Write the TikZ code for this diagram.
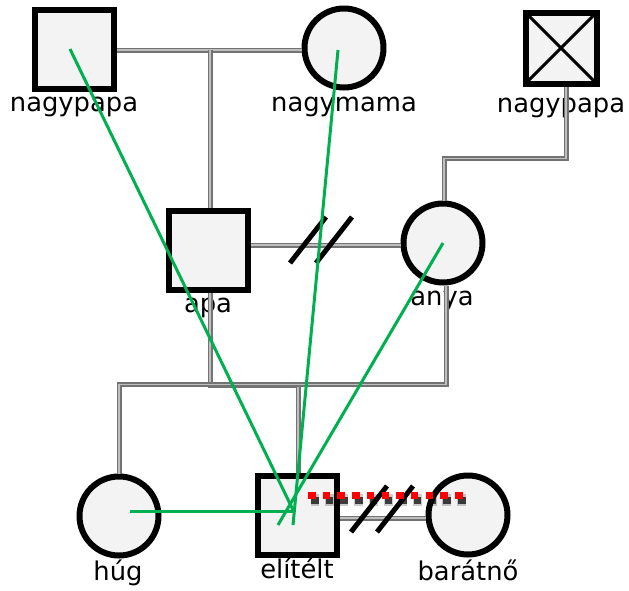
\documentclass[tikz,border=0pt]{standalone}
\usepackage{fontspec}
\setmainfont{DejaVu Sans}
\usetikzlibrary{calc}
\definecolor{emogreen}{RGB}{0,176,80}
\definecolor{boxfill}{RGB}{243,243,243}
\tikzset{
  person/.style={draw=black, line width=6pt, fill=boxfill, inner sep=0pt, minimum size=79pt},
  male/.style={person, rectangle},
  female/.style={person, circle},
  deceased/.style={male, minimum size=71pt,
    path picture={\draw[line width=3pt]
      (path picture bounding box.south west) -- (path picture bounding box.north east)
      (path picture bounding box.north west) -- (path picture bounding box.south east);}},
  lbl/.style={anchor=base, font=\fontsize{25.8}{30}\selectfont},
  rel/.style={draw=black!55, double=black!25, line width=1.6pt, double distance=1.8pt},
  cut/.style={line width=5pt, black},
  emo/.style={emogreen, line width=3pt},
}
\begin{document}
\begin{tikzpicture}[x=1pt, y=-1pt]
\useasboundingbox (0,0) rectangle (629,590);
% ==== Persons ====
\node[male]     (np1) at (74,49)   {};
\node[female]   (nm)  at (344,48)  {};
\node[deceased] (np2) at (561,48)  {};
\node[male]     (apa) at (208,250) {};
\node[female]   (anya) at (443,243) {};
\node[female]   (hug) at (119,516) {};
\node[male]     (eli) at (297,515) {};
\node[female]   (bn)  at (468,515) {};
% ==== Labels ====
\node[lbl] (np1l) at (74,111)  {nagypapa};
\node[lbl] (nml)  at (344,111) {nagymama};
\node[lbl] (np2l) at (561,112) {nagypapa};
\node[lbl] (apal) at (208,312) {apa};
\node[lbl] (anyal) at (442,305) {anya};
\node[lbl] (hugl) at (118,580) {húg};
\node[lbl] (elil) at (297,578) {elítélt};
\node[lbl] (bnl)  at (468,580) {barátnő};
% ==== Family lines ====
\coordinate (m1) at (210,50);
\draw[rel] (np1.east |- m1) -- (nm.west |- m1);
\draw[rel] (m1) -- (m1 |- apa.north);
\draw[rel] ([xshift=5pt]np2.south) -- ++(0,72) -| ([xshift=1pt]anya.north);
\draw[rel] (apa.east |- 0,245) -- (anya.west |- 0,245);
\draw[rel] (m1 |- apa.south) -- (210,385) -| ([xshift=1pt]eli.north);
\draw[rel] ([xshift=3pt]anya.south) -- ++(0,99) -| (hug.north);
\draw[rel] (eli.east |- 0,518) -- (bn.west |- 0,518);
% ==== Separation marks ====
\coordinate (c1) at (321,240);
\coordinate (c2) at (382,509);
\foreach \c in {c1,c2}
  \foreach \dx in {-13,13}
    \draw[cut] ($(\c)+(\dx,0)+(-18,23)$) -- ++(36,-46);
% ==== Conflict line ====
\coordinate (r1) at ([shift={(11,-20)}]eli.center);
\coordinate (r2) at ([shift={(-1,-20)}]bn.center);
\draw[black, opacity=0.2, line width=12pt, dash pattern=on 9pt off 5.7pt, dash phase=1pt]
  ([shift={(3,5)}]r1) -- ([shift={(3,5)}]r2);
\draw[black, opacity=0.7, line width=7pt, dash pattern=on 7.5pt off 7.2pt]
  ([shift={(3,5)}]r1) -- ([shift={(3,5)}]r2);
\draw[red, line width=7pt, dash pattern=on 7.5pt off 7.2pt] (r1) -- (r2);
% ==== Emotional ties ====
\draw[emo] ([shift={(-4,0)}]np1.center) -- ([shift={(-3,-3)}]eli.center);
\draw[emo] ([shift={(-6,2)}]nm.center) -- ([shift={(-4,10)}]eli.center);
\draw[emo] (anya.center) -- ([shift={(-19,10)}]eli.center);
\draw[emo] ([shift={(11,-5)}]hug.center) -- ([shift={(-4,-4)}]eli.center);
\end{tikzpicture}
\end{document}
